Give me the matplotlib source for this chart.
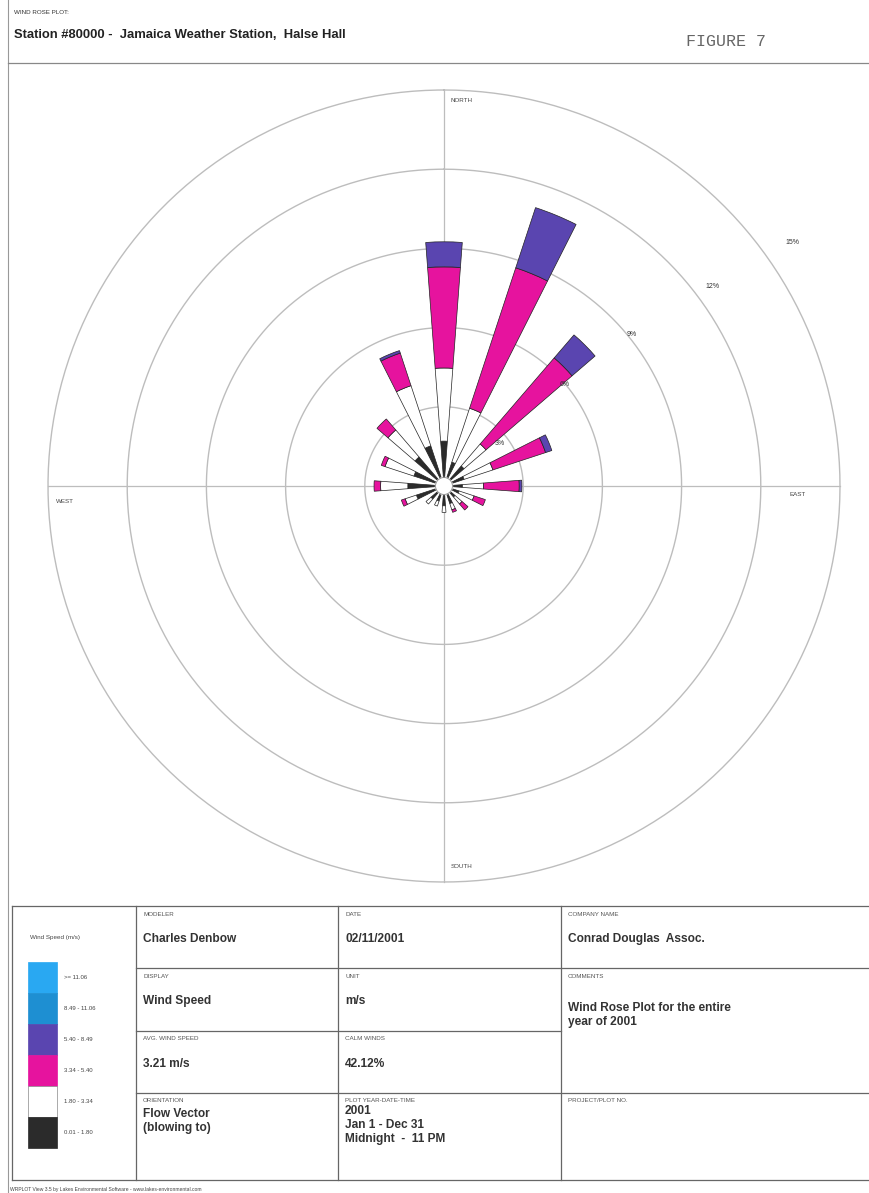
import numpy as np
import matplotlib
matplotlib.use('Agg')
import matplotlib.pyplot as plt
from matplotlib.patches import Rectangle

plt.rcParams['font.family'] = ['Liberation Sans', 'DejaVu Sans']

# 16 directions, clockwise from north
directions = ['N', 'NNE', 'NE', 'ENE', 'E', 'ESE', 'SE', 'SSE',
              'S', 'SSW', 'SW', 'WSW', 'W', 'WNW', 'NW', 'NNW']

# frequency (%) of each speed class per direction
freq_001_180 = [1.70, 0.95, 1.00, 0.80, 0.70, 0.60, 0.55, 0.70,
                0.75, 0.60, 0.65, 1.10, 1.37, 1.20, 1.45, 1.60]
freq_180_334 = [2.77, 2.15, 1.10, 1.15, 0.80, 0.60, 0.35, 0.25,
                0.25, 0.20, 0.25, 0.45, 1.03, 1.15, 1.35, 2.40]
freq_334_540 = [3.83, 5.60, 4.30, 2.10, 1.35, 0.45, 0.30, 0.10,
                0.00, 0.00, 0.00, 0.15, 0.25, 0.15, 0.55, 1.30]
freq_540_849 = [0.95, 2.40, 1.15, 0.25, 0.10, 0.00, 0.00, 0.00,
                0.00, 0.00, 0.00, 0.00, 0.00, 0.00, 0.00, 0.10]
freq_849_1106 = [0.0] * 16
freq_gt_1106 = [0.0] * 16

class_labels = ['0.01 - 1.80', '1.80 - 3.34', '3.34 - 5.40',
                '5.40 - 8.49', '8.49 - 11.06', '>= 11.06']
class_colors = ['#2b2b2b', '#ffffff', '#e6139e', '#5a45b0', '#1e8fd2', '#29a8f2']

rings = [3, 6, 9, 12, 15]
calm_pct = 42.12

# ---------------- figure ----------------
W, H = 869, 1193
fig = plt.figure(figsize=(W / 100, H / 100), dpi=100)
fig.patch.set_facecolor('white')

# page overlay in pixel coords
page = fig.add_axes([0, 0, 1, 1])
page.set_xlim(0, W)
page.set_ylim(H, 0)
page.axis('off')

page.plot([8, 8], [0, H], color='#999999', lw=0.8)
page.plot([8, W], [63, 63], color='#888888', lw=0.9)

page.text(14, 13, 'WIND ROSE PLOT:', fontsize=4.5, color='#333333', va='center')
page.text(14, 35, 'Station #80000 -  Jamaica Weather Station,  Halse Hall',
          fontsize=9.4, fontweight='bold', color='#222222', va='center')
page.text(686, 42, 'FIGURE 7', fontsize=12, family='Liberation Mono',
          color='#666666', va='center')

# ---------------- wind rose ----------------
cx, cy, R = 444, 486, 396
ax = fig.add_axes([(cx - R) / W, (H - cy - R) / H, 2 * R / W, 2 * R / H],
                  projection='polar')
ax.set_theta_zero_location('N')
ax.set_theta_direction(-1)
ax.set_ylim(0, rings[-1])
ax.axis('off')

gridc = '#bdbdbd'
full = np.linspace(0, 2 * np.pi, 400)
for r in rings:
    ax.plot(full, [r] * len(full), color=gridc, lw=1.0, zorder=1, clip_on=False)
for t in [0, np.pi / 2, np.pi, 3 * np.pi / 2]:
    ax.plot([t, t], [0, rings[-1]], color=gridc, lw=0.9, zorder=1, clip_on=False)

theta = np.deg2rad(np.arange(len(directions)) * 22.5)
series = [freq_001_180, freq_180_334, freq_334_540,
          freq_540_849, freq_849_1106, freq_gt_1106]
bottom = np.zeros(len(directions))
for vals, col in zip(series, class_colors):
    vals = np.array(vals)
    mask = vals > 0
    ax.bar(theta[mask], vals[mask], width=0.15, bottom=bottom[mask],
           color=col, edgecolor='#222222', linewidth=0.5, zorder=3)
    bottom += vals

# calm circle
ax.fill(full, [0.32] * len(full), color='white', zorder=4)
ax.plot(full, [0.32] * len(full), color='#888888', lw=0.6, zorder=5)

# ring labels
ring_lbl_pos = [(52.5, 2.65), (50.1, 5.97), (51.2, 9.13), (53.4, 12.65), (55.1, 16.1)]
for r, (ang, rr) in zip(rings, ring_lbl_pos):
    ax.text(np.deg2rad(ang), rr, f'{r}%', fontsize=5, color='#333333',
            ha='center', va='center', zorder=6, clip_on=False)

lblc = '#444444'
ax.annotate('NORTH', xy=(0, 14.6), xytext=(5, 0), textcoords='offset points',
            fontsize=4.5, color=lblc, ha='left', va='center')
ax.annotate('SOUTH', xy=(np.pi, 14.4), xytext=(5, 0), textcoords='offset points',
            fontsize=4.5, color=lblc, ha='left', va='center')
ax.annotate('WEST', xy=(3 * np.pi / 2, 14.7), xytext=(0, -11), textcoords='offset points',
            fontsize=4.5, color=lblc, ha='left', va='center')
ax.annotate('EAST', xy=(np.pi / 2, 13.1), xytext=(0, -6), textcoords='offset points',
            fontsize=4.5, color=lblc, ha='left', va='center')

# ---------------- info table ----------------
tl = '#666666'
top, r1, r2, r3, bot = 906, 968, 1031, 1093, 1180
c0, c1, c2, c3 = 12, 136, 338, 561
page.plot([c0, W], [top, top], color=tl, lw=0.9)
page.plot([c0, W], [bot, bot], color=tl, lw=0.9)
page.plot([c0, c0], [top, bot], color=tl, lw=0.9)
for x in [c1, c2, c3]:
    page.plot([x, x], [top, bot], color=tl, lw=0.9)
page.plot([c1, W], [r1, r1], color=tl, lw=0.9)
page.plot([c1, c3], [r2, r2], color=tl, lw=0.9)
page.plot([c1, W], [r3, r3], color=tl, lw=0.9)

# legend
page.text(30, 938, 'Wind Speed (m/s)', fontsize=4.5, color='#444444', va='center')
blk_h = 31
for i, (lab, col) in enumerate(zip(class_labels[::-1], class_colors[::-1])):
    y0 = 962 + i * blk_h
    page.add_patch(Rectangle((28, y0), 29, blk_h, facecolor=col,
                             edgecolor='#888888' if col == '#ffffff' else col, lw=0.5))
    page.text(64, y0 + blk_h / 2, lab, fontsize=4.3, color='#444444', va='center')

# (x, row top, label, value lines, y offset of first value line)
cells = [
    (c1, top, 'MODELER', ['Charles Denbow'], 33),
    (c2, top, 'DATE', ['02/11/2001'], 33),
    (c3, top, 'COMPANY NAME', ['Conrad Douglas  Assoc.'], 33),
    (c1, r1, 'DISPLAY', ['Wind Speed'], 33),
    (c2, r1, 'UNIT', ['m/s'], 33),
    (c3, r1, 'COMMENTS', ['Wind Rose Plot for the entire', 'year of 2001'], 40),
    (c1, r2, 'AVG. WIND SPEED', ['3.21 m/s'], 33),
    (c2, r2, 'CALM WINDS', [f'{calm_pct:.2f}%'], 33),
    (c1, r3, 'ORIENTATION', ['Flow Vector', '(blowing to)'], 21),
    (c2, r3, 'PLOT YEAR-DATE-TIME', ['2001', 'Jan 1 - Dec 31', 'Midnight  -  11 PM'], 18),
    (c3, r3, 'PROJECT/PLOT NO.', [], 0),
]
for x, y, lab, vals, off in cells:
    page.text(x + 7, y + 8, lab, fontsize=4.5, color='#555555', va='center')
    for k, v in enumerate(vals):
        page.text(x + 7, y + off + k * 14, v, fontsize=8.6, fontweight='bold',
                  color='#333333', va='center')

page.text(10, 1189, 'WRPLOT View 3.5 by Lakes Environmental Software - www.lakes-environmental.com',
          fontsize=3.6, color='#444444', va='center')

fig.savefig('out.png', dpi=100)
